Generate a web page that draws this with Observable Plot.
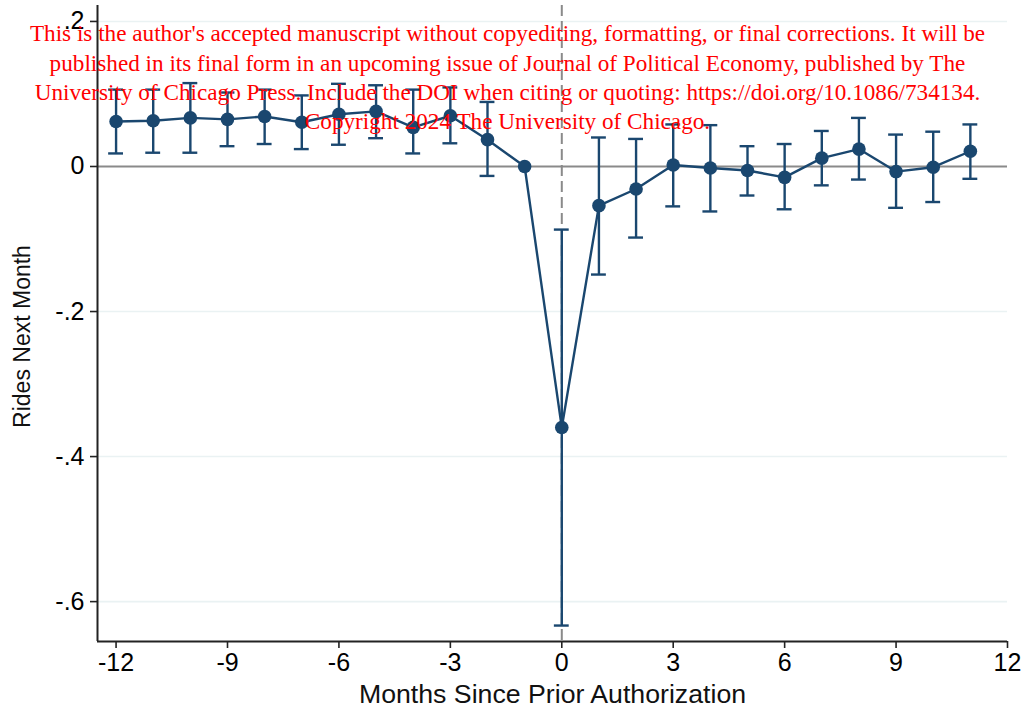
<!DOCTYPE html>
<html>
<head>
<meta charset="utf-8">
<script src="https://cdn.jsdelivr.net/npm/d3@7"></script>
<script src="https://cdn.jsdelivr.net/npm/@observablehq/plot@0.6"></script>
<style>
  html, body { margin: 0; padding: 0; background: #fff; overflow: hidden; }
  #chart svg { display: block; }
</style>
</head>
<body>
<div id="chart"></div>
<script>
// ---- data ----
const months = [-12, -11, -10, -9, -8, -7, -6, -5, -4, -3, -2, -1, 0, 1, 2, 3, 4, 5, 6, 7, 8, 9, 10, 11];
const coef = [0.062, 0.063, 0.067, 0.065, 0.069, 0.061, 0.072, 0.076, 0.054, 0.070, 0.037, 0.000,
              -0.360, -0.054, -0.031, 0.002, -0.002, -0.0055, -0.015, 0.0115, 0.024, -0.007, -0.001, 0.021];
const ciLow = [0.018, 0.019, 0.019, 0.028, 0.031, 0.024, 0.030, 0.039, 0.018, 0.032, -0.013, null,
               -0.633, -0.149, -0.098, -0.055, -0.062, -0.040, -0.059, -0.026, -0.018, -0.057, -0.049, -0.017];
const ciHigh = [0.106, 0.106, 0.115, 0.102, 0.106, 0.098, 0.114, 0.112, 0.106, 0.109, 0.089, null,
                -0.087, 0.040, 0.038, 0.058, 0.057, 0.028, 0.031, 0.049, 0.067, 0.044, 0.048, 0.058];

const xTicks = [-12, -9, -6, -3, 0, 3, 6, 9, 12];
const yTicks = [0.2, 0, -0.2, -0.4, -0.6];
const yTickLabels = [".2", "0", "-.2", "-.4", "-.6"];
const gridValues = [0.2, -0.2, -0.4, -0.6];
const xDomain = [-12.5, 12];
const yDomain = [-0.655, 0.222];
const capHalfWidth = 0.2; // months

const xTitle = "Months Since Prior Authorization";
const yTitle = "Rides Next Month";
const watermark = "This is the author's accepted manuscript without copyediting, formatting, or final corrections. It will be\n" +
  "published in its final form in an upcoming issue of Journal of Political Economy, published by The\n" +
  "University of Chicago Press. Include the DOI when citing or quoting: https://doi.org/10.1086/734134.\n" +
  "Copyright 2024 The University of Chicago.";

// ---- table ----
const rows = months.map((m, i) => ({m, b: coef[i], lo: ciLow[i], hi: ciHigh[i]}));
const ciRows = rows.filter(d => d.lo != null);

const navy = "#1a476f";
const sans = "'Liberation Sans', Arial, sans-serif";

const chart = Plot.plot({
  width: 1026,
  height: 709,
  marginLeft: 97,
  marginRight: 19,
  marginTop: 5,
  marginBottom: 68,
  style: {fontFamily: sans, background: "#fff"},
  x: {domain: xDomain},
  y: {domain: yDomain},
  marks: [
    // grid
    Plot.ruleY(gridValues, {stroke: "#eaf2f3", strokeWidth: 1.6}),
    // zero reference line
    Plot.ruleY([0], {stroke: "#8a8a8a", strokeWidth: 2}),
    // dashed event line
    Plot.ruleX([0], {stroke: "#8a8a8a", strokeWidth: 2, strokeDasharray: "11,5"}),
    // CI bars
    Plot.ruleX(ciRows, {x: "m", y1: "lo", y2: "hi", stroke: navy, strokeWidth: 2.4}),
    Plot.ruleY(ciRows, {y: "lo", x1: d => d.m - capHalfWidth, x2: d => d.m + capHalfWidth, stroke: navy, strokeWidth: 2.4}),
    Plot.ruleY(ciRows, {y: "hi", x1: d => d.m - capHalfWidth, x2: d => d.m + capHalfWidth, stroke: navy, strokeWidth: 2.4}),
    // connecting line + markers
    Plot.line(rows, {x: "m", y: "b", stroke: navy, strokeWidth: 2.4}),
    Plot.dot(rows, {x: "m", y: "b", r: 6.8, fill: navy, stroke: "none"}),
    // axes
    Plot.ruleX([xDomain[0]], {stroke: "#222", strokeWidth: 2}),
    Plot.ruleY([yDomain[0]], {stroke: "#222", strokeWidth: 2}),
    Plot.axisY({ticks: yTicks, tickSize: 7, tickPadding: 6, tickFormat: d => yTickLabels[yTicks.indexOf(d)],
                fontSize: 25, label: null, stroke: "#222", strokeWidth: 1.6}),
    Plot.axisX({ticks: xTicks, tickSize: 7, tickPadding: 5, tickFormat: d => String(d),
                fontSize: 25, label: null, stroke: "#222", strokeWidth: 1.6}),
    // titles
    Plot.text([xTitle], {frameAnchor: "bottom", dy: 53, lineAnchor: "middle", textAnchor: "middle", fontSize: 26.7, fill: "#111"}),
    Plot.text([yTitle], {frameAnchor: "left", dx: -75, dy: 13, rotate: -90, lineAnchor: "middle", textAnchor: "middle", fontSize: 23, fill: "#111"}),
    // watermark
    Plot.text([watermark], {frameAnchor: "top", dx: -45, dy: 15, lineAnchor: "top", lineHeight: 1.265,
               fontSize: 23.2, fontFamily: "'Liberation Serif', 'DejaVu Serif', serif", fill: "#ff0000", lineWidth: 200})
  ]
});
document.getElementById("chart").appendChild(chart);
</script>
</body>
</html>
